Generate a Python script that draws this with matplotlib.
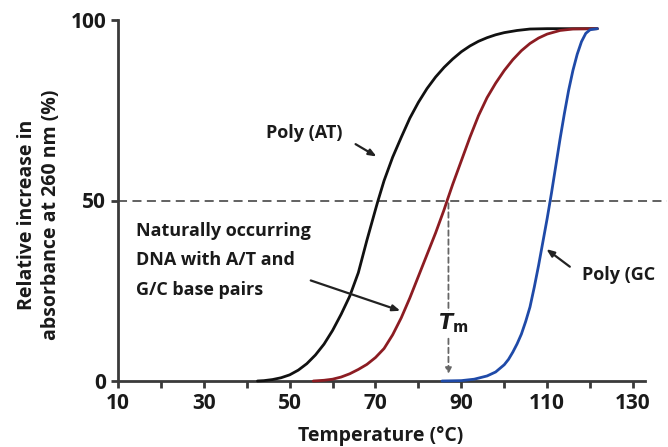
import matplotlib
matplotlib.use("Agg")
import matplotlib.pyplot as plt

plt.rcParams['font.family'] = ['Open Sans', 'DejaVu Sans']
plt.rcParams['font.weight'] = 'bold'

# ---- data ----
at_temp = [42.5, 44, 46, 48, 50, 52, 54, 56, 58, 60, 62, 64, 66, 68, 70, 70.6, 72, 74, 76, 78,
           80, 82, 84, 86, 88, 90, 92, 94, 96, 98, 100, 103, 106, 110, 121.7]
at_vals = [0, 0.1, 0.4, 0.9, 1.7, 3, 4.8, 7.2, 10.2, 14, 18.5, 23.5, 30, 39, 47.5, 50, 55.5, 62, 67.5, 72.8,
           77.2, 81, 84.2, 86.9, 89.2, 91.2, 92.8, 94.1, 95.1, 95.9, 96.5, 97.1, 97.5, 97.6, 97.6]

nat_temp = [55.5, 58, 60, 62, 64, 66, 68, 70, 72, 74, 76, 78, 80, 82, 84, 86, 86.7, 88, 90, 92,
            94, 96, 98, 100, 102, 104, 106, 108, 110, 113, 116, 121.7]
nat_vals = [0, 0.2, 0.5, 1.1, 2, 3.2, 4.6, 6.5, 9, 12.8, 17.5, 23, 29, 35, 41, 47.5, 50, 54.5, 61, 67.5,
            73.5, 78.5, 82.5, 86, 89, 91.5, 93.5, 95, 96.1, 97.1, 97.5, 97.6]

gc_temp = [85.5, 90, 93, 96, 98, 100, 101, 102, 103, 104, 105, 106, 107, 108, 109, 110, 111, 112,
           113, 114, 115, 116, 117, 118, 119, 120, 121.7]
gc_vals = [0, 0.1, 0.5, 1.4, 2.5, 4.5, 6, 8, 10.3, 13, 16.5, 20.5, 26, 32, 38.5, 45, 52, 59.5,
           67, 74, 80.5, 86, 90.5, 94, 96.3, 97.3, 97.6]

x_ticks = [10, 30, 50, 70, 90, 110, 130]
x_minor = [20, 40, 60, 80, 100, 120]
y_ticks = [0, 50, 100]
tm_value = 86.7

TXT = '#1a1a1a'
AX = '#3a3a3a'

fig = plt.figure(figsize=(6.68, 4.47), dpi=100)
ax = fig.add_axes([118/668, 1-381/447, (645-118)/668, (381-20)/447])
ax.set_xlim(10, 132.8)
ax.set_ylim(0, 100)

for s in ['top', 'right']:
    ax.spines[s].set_visible(False)
for s in ['left', 'bottom']:
    ax.spines[s].set_linewidth(2.0)
    ax.spines[s].set_color(AX)

ax.set_xticks(x_ticks)
ax.set_xticks(x_minor, minor=True)
ax.set_yticks(y_ticks)
ax.tick_params(axis='both', which='both', length=5, width=2.0, color=AX,
               labelsize=15, labelcolor=TXT, pad=3.5)
for lab in ax.get_xticklabels() + ax.get_yticklabels():
    lab.set_fontweight('bold')

# 50% dashed line
ax.plot([10, 138], [50, 50], color='#555555', lw=1.3, ls=(0, (5, 3)), clip_on=False, zorder=1)

# curves
kw = dict(lw=2.0, clip_on=False, zorder=3, solid_capstyle='round', solid_joinstyle='round')
ax.plot(at_temp, at_vals, color='#111111', **kw)
ax.plot(nat_temp, nat_vals, color='#8c1c22', **kw)
ax.plot(gc_temp, gc_vals, color='#1f4aa8', **kw)

# Tm dashed arrow
ax.annotate('', xy=(tm_value + 0.3, 1.2), xytext=(tm_value + 0.3, 50),
            arrowprops=dict(arrowstyle='-|>,head_length=0.35,head_width=0.18',
                            color='#666666', lw=1.3, ls=(0, (3, 2))), zorder=2)
ax.text(tm_value + 1.4, 16, r'$\mathit{T}_{\mathrm{m}}$', fontsize=15, color=TXT,
        ha='center', va='center', zorder=4,
        bbox=dict(facecolor='white', edgecolor='none', pad=0.5))

# labels with arrows
ax.text(53.4, 68.8, 'Poly (AT)', fontsize=13, fontweight='bold', color=TXT, ha='center', va='center')
ax.annotate('', xy=(70.8, 61.8), xytext=(64.8, 66),
            arrowprops=dict(arrowstyle='-|>,head_length=0.45,head_width=0.18', color='#222222', lw=1.6))

for yv, line in zip([41.5, 33.4, 25.3], ['Naturally occurring', 'DNA with A/T and', 'G/C base pairs']):
    ax.text(14.2, yv, line, fontsize=13, fontweight='bold', color=TXT, ha='left', va='center')
ax.annotate('', xy=(76.4, 19.2), xytext=(54.3, 28.1),
            arrowprops=dict(arrowstyle='-|>,head_length=0.45,head_width=0.18', color='#222222', lw=1.6))

ax.text(118.2, 29.5, 'Poly (GC', fontsize=13, fontweight='bold', color=TXT, ha='left', va='center',
        clip_on=False)
ax.annotate('', xy=(109.3, 37), xytext=(115.8, 31.2),
            arrowprops=dict(arrowstyle='-|>,head_length=0.45,head_width=0.18', color='#222222', lw=1.6))

# axis labels
fig.text(381/668, 1-436/447, 'Temperature (\u00b0C)', fontsize=14, fontweight='bold', color=TXT,
         ha='center', va='center')
fig.text(39/668, 1-215/447, 'Relative increase in\nabsorbance at 260 nm (%)', fontsize=14,
         fontweight='bold', color=TXT, ha='center', va='center', rotation=90, linespacing=1.25)

fig.savefig('out.png', dpi=100)
